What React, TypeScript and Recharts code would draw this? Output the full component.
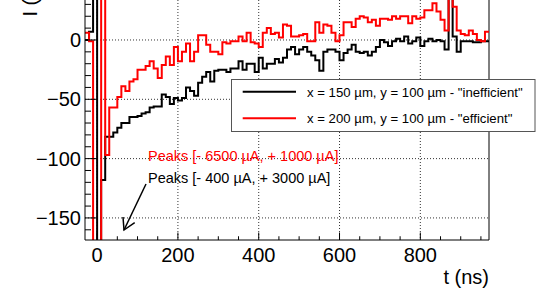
import { LineChart, Line, XAxis, YAxis, CartesianGrid, ReferenceLine } from 'recharts';

// histogram bins: 10 ns wide, first bin starts at -30 ns
const BIN_START = -30;
const BIN_WIDTH = 10;

// x = 150 um, y = 100 um - "inefficient"
const inefficient = [
  0, 7, 3000, -400, -118, -81.5, -81.5, -78, -74, -70,
  -70, -65, -65, -64, -62, -61, -57, -56, -56, -46,
  -48, -54, -49, -51, -49, -40, -43, -47, -36, -31,
  -27, -35, -26, -25, -25, -27, -24, -24, -18, -25,
  -20, -20, -27, -15, -24, -20, -20, -16, -19, -15,
  -8, -6, -12, -8, -6, -10, -13, -17, -26, -10,
  -8, -8, -10, -17, -11, -8, -4, -10, -11, -10,
  -13, -10, -6, 0, -2, -5, -1, 1, -1, 3,
  -3, -1, 2, -5, -1, 1, -1, 0, -1, -8,
  40, 3, -10, -1, -1, -1, -2, -2, -1, -1,
];

// x = 200 um, y = 100 um - "efficient"
const efficient = [
  6, -1, -6500, -6500, 1000, -97, -57, -57, -48, -39,
  -43, -35, -33, -25, -25, -22, -18, -24, -32, -21,
  -14, -21, -6, -18, -10, -3, -18, -10, 4, 4,
  -4, -10, -10, -12, -2, -3, -1, -1, 3, -1,
  6, -2, -3, -6, 6, 10, 5, 6, 2, 13,
  12, 3, 3, 4, 5, -1, -1, 15, 6, 13,
  12, 6, -1, 4, 15, 15, 11, 18, 20, 19,
  15, 17, 12, 18, 18, 17, 20, 18, 20, 20,
  14, 20, 18, 19, 25, 25, 31, 24, 17, 8,
  45, 28, 8, 5, 4, 8, 5, 0, -1, 7,
];

const xMajor = [0, 200, 400, 600, 800];
const xTicks = [0, 50, 100, 150, 200, 250, 300, 350, 400, 450, 500, 550, 600, 650, 700, 750, 800, 850, 900, 950];
const yMajor = [-150, -100, -50, 0];
const yTicks = [-160, -150, -140, -130, -120, -110, -100, -90, -80, -70, -60, -50, -40, -30, -20, -10, 0, 10, 20, 30];

const X_DOMAIN = [-30, 970];
const Y_DOMAIN = [-168.6, 33.7];

const data = inefficient.map((v, i) => ({
  t: BIN_START + i * BIN_WIDTH,
  black: v,
  red: efficient[i],
}));
data.push({
  t: BIN_START + inefficient.length * BIN_WIDTH,
  black: inefficient[inefficient.length - 1],
  red: efficient[efficient.length - 1],
});

const FONT = '"Liberation Sans", Arial, Helvetica, sans-serif';

function XTick({ x, y, payload }: any) {
  const major = xMajor.includes(payload.value);
  return (
    <g>
      <line x1={x} x2={x} y1={y} y2={y - (major ? 7.5 : 3.75)} stroke="#000" strokeWidth={1} />
      {major && (
        <text x={x} y={y + 22} textAnchor="middle" fontSize={20} fontFamily={FONT} fill="#000">
          {payload.value}
        </text>
      )}
    </g>
  );
}

function YTick({ x, y, payload }: any) {
  const major = yMajor.includes(payload.value);
  const label = payload.value < 0 ? '\u2212' + Math.abs(payload.value) : String(payload.value);
  return (
    <g>
      <line x1={x} x2={x + (major ? 12 : 6)} y1={y} y2={y} stroke="#000" strokeWidth={1} />
      {major && (
        <text x={x - 4} y={y + 7.2} textAnchor="end" fontSize={20} fontFamily={FONT} fill="#000">
          {label}
        </text>
      )}
    </g>
  );
}

export default function App() {
  return (
    <div style={{ position: 'absolute', left: 0, top: 0, width: 538, height: 303, background: '#fff' }}>
      <LineChart width={538} height={303} data={data} margin={{ top: 0, right: 49, bottom: 0, left: 0 }}>
        <CartesianGrid
          stroke="#333"
          strokeDasharray="1 2"
          horizontalValues={yMajor}
          verticalValues={xMajor}
        />
        <XAxis
          dataKey="t"
          type="number"
          domain={X_DOMAIN}
          allowDataOverflow
          ticks={xTicks}
          interval={0}
          height={63}
          tickSize={0}
          tickMargin={0}
          tick={<XTick />}
          axisLine={{ stroke: '#000' }}
        />
        <YAxis
          type="number"
          domain={Y_DOMAIN}
          allowDataOverflow
          ticks={yTicks}
          interval={0}
          width={85}
          tickSize={0}
          tickMargin={0}
          tick={<YTick />}
          axisLine={{ stroke: '#000' }}
        />
        <ReferenceLine x={970} stroke="#000" strokeWidth={1} />
        <Line
          type="stepAfter"
          dataKey="black"
          stroke="#000"
          strokeWidth={2}
          dot={false}
          isAnimationActive={false}
        />
        <Line
          type="stepAfter"
          dataKey="red"
          stroke="#ff0000"
          strokeWidth={2}
          dot={false}
          isAnimationActive={false}
        />
      </LineChart>
      <svg
        width={538}
        height={303}
        style={{ position: 'absolute', left: 0, top: 0, pointerEvents: 'none' }}
        fontFamily={FONT}
      >
        <text x={37} y={16.5} transform="rotate(-90 37 16.5)" fontSize={20} fill="#000">
          I (µA)
        </text>
        <text x={489} y={284} textAnchor="end" fontSize={20} fill="#000">
          t (ns)
        </text>
        <text x={148} y={160.5} fontSize={14.5} fill="#ff0000">
          Peaks [- 6500 µA, + 1000 µA]
        </text>
        <text x={148} y={182.5} fontSize={14.5} fill="#000">
          Peaks [- 400 µA, + 3000 µA]
        </text>
        <g stroke="#000" strokeWidth={1.5} fill="none">
          <line x1={146} y1={184} x2={124} y2={230} />
          <polyline points="134.7,222.7 124,230 123,217" />
        </g>
        <g>
          <rect x={231.5} y={79.5} width={303.5} height={52} fill="#fff" stroke="#555" strokeWidth={1} />
          <line x1={242.7} x2={296} y1={91.7} y2={91.7} stroke="#000" strokeWidth={2} />
          <text x={307} y={97} fontSize={13.2} fill="#000">
            x = 150 µm, y = 100 µm - "inefficient"
          </text>
          <line x1={242.7} x2={296} y1={118.3} y2={118.3} stroke="#ff0000" strokeWidth={2} />
          <text x={307} y={122.5} fontSize={13.2} fill="#000">
            x = 200 µm, y = 100 µm - "efficient"
          </text>
        </g>
      </svg>
    </div>
  );
}
